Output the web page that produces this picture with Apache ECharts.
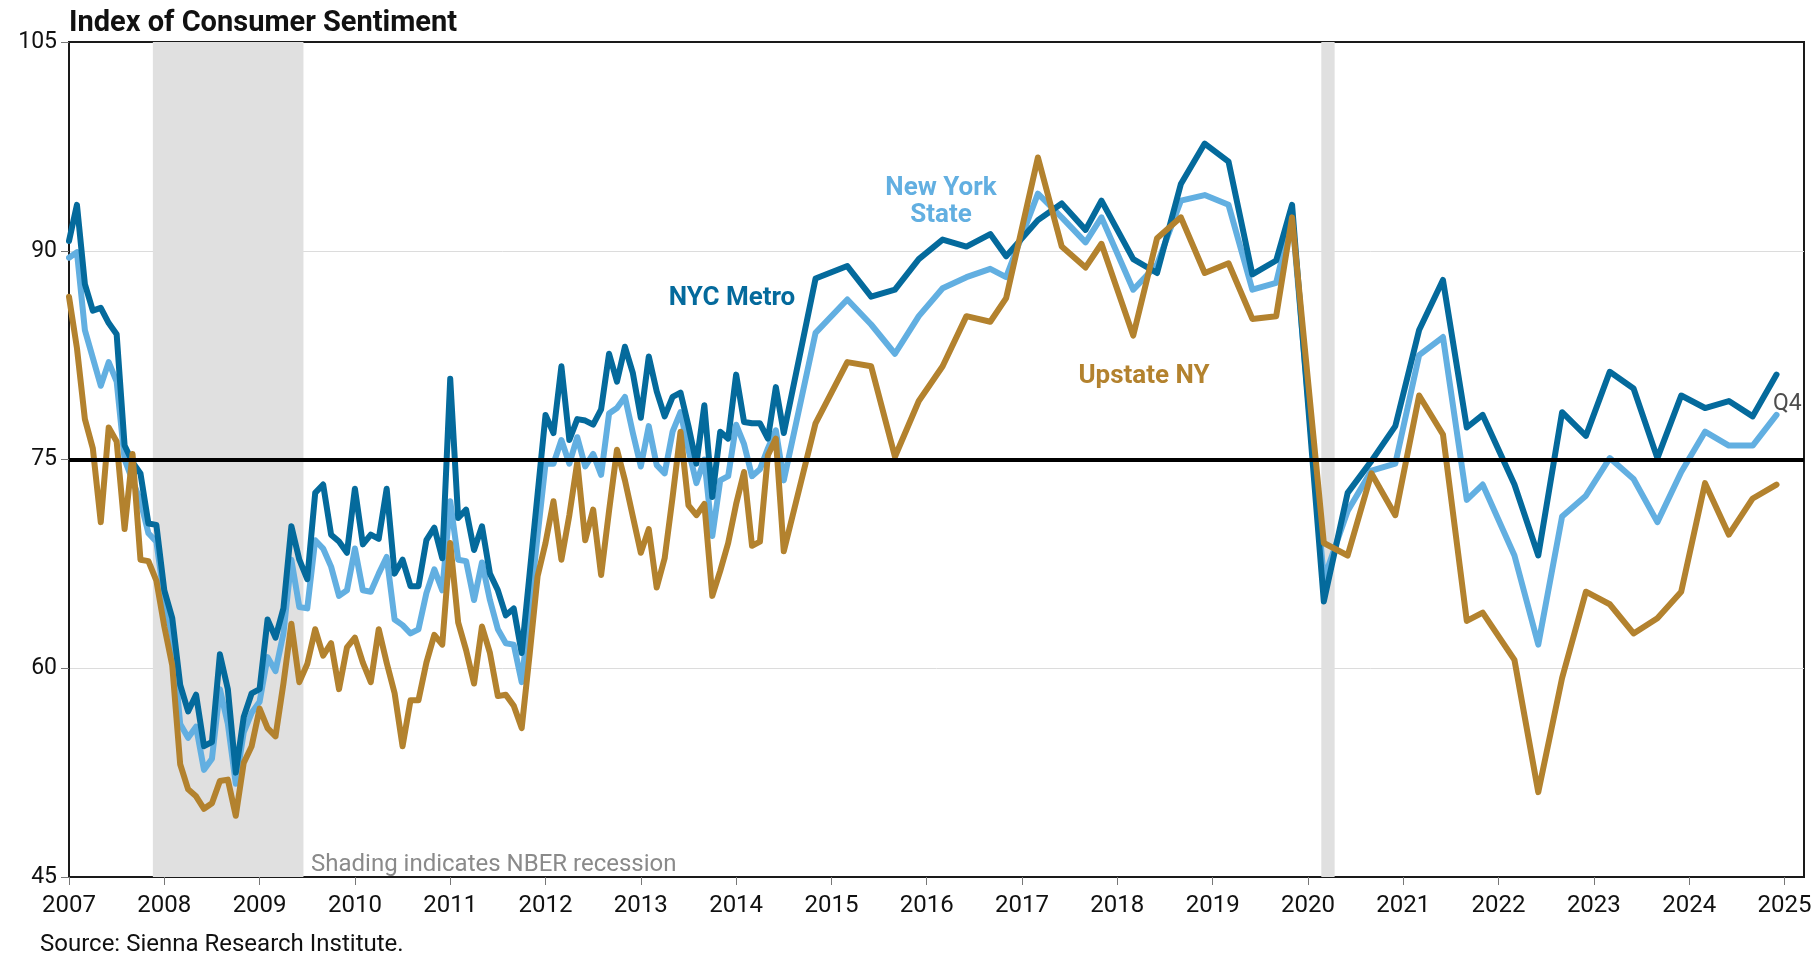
<!DOCTYPE html>
<html>
<head>
<meta charset="utf-8">
<title>Index of Consumer Sentiment</title>
<script src="https://cdn.jsdelivr.net/npm/echarts@6/dist/echarts.min.js"></script>
<style>
  html, body { margin: 0; padding: 0; background: #fff; }
  #chart { width: 1817px; height: 957px; }
</style>
</head>
<body>
<div id="chart"></div>
<script>
// monthly readings, Jan 2007 .. Jul 2014
const monthlyStart = 2007
const nycMonthly = [
  90.7, 93.3, 87.6, 85.7, 85.9, 84.8, 84.0, 76.0, 74.8, 74.0, 70.4, 70.3,
  65.6, 63.6, 58.8, 56.9, 58.1, 54.4, 54.7, 61.0, 58.5, 52.5, 56.5, 58.2,
  58.5, 63.5, 62.2, 64.3, 70.2, 67.8, 66.4, 72.6, 73.2, 69.6, 69.1, 68.3,
  72.9, 68.9, 69.6, 69.3, 72.9, 66.8, 67.8, 65.9, 65.9, 69.2, 70.1, 67.9,
  80.8, 70.8, 71.4, 68.5, 70.2, 66.8, 65.6, 63.8, 64.3, 61.1, 66.8, 72.5,
  78.2, 76.9, 81.7, 76.4, 77.9, 77.8, 77.5, 78.6, 82.6, 80.6, 83.1, 81.2,
  78.0, 82.4, 79.9, 78.1, 79.5, 79.8, 77.4, 74.7, 78.9, 72.3, 77.0, 76.5,
  81.1, 77.7, 77.6, 77.6, 76.5, 80.2, 76.9
]
const nysMonthly = [
  89.5, 89.9, 84.3, 82.3, 80.3, 82.0, 80.6, 75.0, 73.5, 72.0, 69.7, 69.1,
  65.0, 62.2, 56.0, 55.0, 55.8, 52.7, 53.5, 58.5, 56.0, 51.7, 55.4, 56.8,
  57.6, 60.8, 59.8, 62.5, 67.8, 64.4, 64.3, 69.2, 68.6, 67.3, 65.2, 65.6,
  68.6, 65.6, 65.5, 66.8, 68.0, 63.5, 63.1, 62.5, 62.8, 65.4, 67.1, 65.6,
  72.0, 67.8, 67.7, 64.9, 67.6, 64.9, 62.8, 61.8, 61.7, 59.0, 64.2, 69.5,
  74.7, 74.7, 76.4, 74.7, 76.6, 74.5, 75.4, 73.9, 78.3, 78.7, 79.5, 76.9,
  74.5, 77.4, 74.6, 74.0, 77.0, 78.4, 75.7, 73.3, 75.0, 69.5, 73.5, 73.8,
  77.5, 76.1, 73.8, 74.3, 75.8, 77.1, 73.5
]
const upstateMonthly = [
  86.7, 83.0, 77.9, 75.8, 70.5, 77.3, 76.3, 70.0, 75.4, 67.8, 67.7, 66.3,
  63.0, 60.2, 53.1, 51.3, 50.8, 49.9, 50.3, 51.9, 52.0, 49.4, 53.2, 54.4,
  57.1, 55.7, 55.1, 58.9, 63.2, 59.0, 60.3, 62.8, 60.9, 61.8, 58.5, 61.5,
  62.2, 60.4, 59.0, 62.8, 60.4, 58.2, 54.4, 57.7, 57.7, 60.4, 62.4, 61.7,
  69.0, 63.3, 61.3, 58.9, 63.0, 61.1, 58.0, 58.1, 57.3, 55.7, 61.0, 66.6,
  69.0, 72.0, 67.8, 71.0, 74.8, 69.2, 71.4, 66.7, 71.3, 75.7, 73.5, 70.9,
  68.3, 70.0, 65.8, 67.9, 72.3, 77.0, 71.7, 71.0, 71.8, 65.2, 67.0, 69.0,
  71.8, 74.1, 68.8, 69.1, 75.3, 76.5, 68.4
]

// quarterly readings from late 2014
const quarterDates = [
  '2014-11', '2015-03', '2015-06', '2015-09', '2015-12', '2016-03', '2016-06',
  '2016-09', '2016-11', '2017-03', '2017-06', '2017-09', '2017-11', '2018-03',
  '2018-06', '2018-09', '2018-12', '2019-03', '2019-06', '2019-09', '2019-11',
  '2020-03', '2020-06', '2020-09', '2020-12', '2021-03', '2021-06', '2021-09',
  '2021-11', '2022-03', '2022-06', '2022-09', '2022-12', '2023-03', '2023-06',
  '2023-09', '2023-12', '2024-03', '2024-06', '2024-09', '2024-12'
]
const nycQuarterly = [
  88.0, 88.9, 86.7, 87.2, 89.4, 90.8, 90.3, 91.2, 89.6, 92.2, 93.4, 91.5,
  93.6, 89.4, 88.4, 94.8, 97.7, 96.4, 88.3, 89.3, 93.3, 64.8, 72.6, 74.9,
  77.4, 84.3, 87.9, 77.3, 78.2, 73.2, 68.1, 78.4, 76.7, 81.3, 80.1, 75.1,
  79.6, 78.7, 79.2, 78.1, 81.1
]
const nysQuarterly = [
  84.1, 86.5, 84.7, 82.6, 85.3, 87.3, 88.1, 88.7, 88.1, 94.1, 92.4, 90.6,
  92.4, 87.2, 89.0, 93.6, 94.0, 93.3, 87.2, 87.7, 92.5, 66.4, 71.3, 74.2,
  74.7, 82.5, 83.8, 72.1, 73.2, 68.1, 61.7, 70.9, 72.4, 75.1, 73.6, 70.5,
  74.1, 77.0, 76.0, 76.0, 78.2
]
const upstateQuarterly = [
  77.6, 82.0, 81.7, 75.2, 79.2, 81.7, 85.3, 84.9, 86.6, 96.7, 90.3, 88.8,
  90.5, 83.9, 90.9, 92.4, 88.4, 89.1, 85.1, 85.3, 92.4, 69.0, 68.1, 74.0,
  71.0, 79.6, 76.8, 63.4, 64.0, 60.6, 51.1, 59.3, 65.5, 64.6, 62.5, 63.6,
  65.5, 73.3, 69.6, 72.2, 73.2
]

// NBER recessions (decimal years)
const recessions = [[2007.88, 2009.46], [2020.14, 2020.28]]
const yTicks = [45, 60, 75, 90, 105]

const colors = {
  nyc: '#046a9c',
  nys: '#62afe1',
  upstate: '#b3822e'
}
const FONT = 'Roboto, "Noto Sans", sans-serif'

function toYear(s) {
  const [y, m] = s.split('-').map(Number)
  return y + (m - 1) / 12
}

function buildSeries(monthly, quarterly) {
  const a = monthly.map((v, i) => [monthlyStart + i / 12, v])
  const b = quarterly.map((v, i) => [toYear(quarterDates[i]), v])
  return a.concat(b)
}

function lineSeries(name, data, color) {
  return {
    name: name,
    type: 'line',
    data: data,
    symbol: 'none',
    z: 3,
    lineStyle: { color: color, width: 6, join: 'round', cap: 'round' },
    itemStyle: { color: color },
    animation: false
  }
}

const chart = echarts.init(document.getElementById('chart'))
chart.setOption({
  animation: false,
  title: {
    text: 'Index of Consumer Sentiment',
    left: 64,
    top: 4,
    textStyle: {
      fontFamily: FONT,
      fontSize: 29,
      lineHeight: 29,
      fontWeight: 'bold',
      color: '#111'
    }
  },
  grid: {
    left: 69,
    right: 13,
    top: 42,
    bottom: 80,
    show: true,
    borderColor: '#1a1a1a',
    borderWidth: 2
  },
  xAxis: {
    type: 'value',
    min: 2007,
    max: 2025.205,
    interval: 1,
    axisLine: { show: true, lineStyle: { color: '#1a1a1a', width: 2 } },
    axisTick: { show: true, length: 8, lineStyle: { color: '#777', width: 1 } },
    axisLabel: {
      margin: 17,
      fontFamily: FONT,
      fontSize: 24,
      color: '#111',
      showMaxLabel: false,
      formatter: v => (Number.isInteger(v) ? String(v) : '')
    },
    splitLine: { show: false }
  },
  yAxis: {
    type: 'value',
    min: yTicks[0],
    max: yTicks[yTicks.length - 1],
    interval: 15,
    axisLine: { show: true, lineStyle: { color: '#1a1a1a', width: 2 } },
    axisTick: { show: true, length: 8, lineStyle: { color: '#777', width: 1 } },
    axisLabel: { margin: 12, fontFamily: FONT, fontSize: 23, color: '#111' },
    splitLine: {
      show: true,
      showMinLine: false,
      showMaxLine: false,
      lineStyle: { color: '#dcdcdc', width: 1 }
    }
  },
  series: [
    {
      // shading + 75 reference line, kept under the data lines
      type: 'line',
      data: [],
      z: 1,
      silent: true,
      markArea: {
        silent: true,
        itemStyle: { color: '#e0e0e0' },
        data: recessions.map(r => [{ xAxis: r[0] }, { xAxis: r[1] }])
      },
      markLine: {
        silent: true,
        symbol: 'none',
        label: { show: false },
        lineStyle: { color: '#000', width: 4, type: 'solid' },
        data: [{ yAxis: 75 }]
      }
    },
    lineSeries('New York State', buildSeries(nysMonthly, nysQuarterly), colors.nys),
    lineSeries('NYC Metro', buildSeries(nycMonthly, nycQuarterly), colors.nyc),
    lineSeries('Upstate NY', buildSeries(upstateMonthly, upstateQuarterly), colors.upstate)
  ],
  graphic: [
    {
      type: 'text',
      z: 10,
      style: {
        x: 732, y: 298, text: 'NYC Metro', fill: colors.nyc,
        font: 'bold 26px ' + FONT, align: 'center', verticalAlign: 'middle'
      }
    },
    {
      type: 'text',
      z: 10,
      style: {
        x: 941, y: 202, text: 'New York\nState', fill: colors.nys,
        font: 'bold 26px ' + FONT, lineHeight: 27, align: 'center', verticalAlign: 'middle'
      }
    },
    {
      type: 'text',
      z: 10,
      style: {
        x: 1144, y: 376, text: 'Upstate NY', fill: colors.upstate,
        font: 'bold 26px ' + FONT, align: 'center', verticalAlign: 'middle'
      }
    },
    {
      type: 'text',
      z: 10,
      style: {
        x: 1773, y: 404, text: 'Q4', fill: '#4d4d4d',
        font: '23px ' + FONT, align: 'left', verticalAlign: 'middle'
      }
    },
    {
      type: 'text',
      z: 10,
      style: {
        x: 311, y: 865, text: 'Shading indicates NBER recession', fill: '#8a8a8a',
        font: '24px ' + FONT, align: 'left', verticalAlign: 'middle'
      }
    },
    {
      type: 'text',
      z: 10,
      style: {
        x: 40, y: 945, text: 'Source: Sienna Research Institute.', fill: '#111',
        font: '24px ' + FONT, align: 'left', verticalAlign: 'middle'
      }
    }
  ]
})
</script>
</body>
</html>
